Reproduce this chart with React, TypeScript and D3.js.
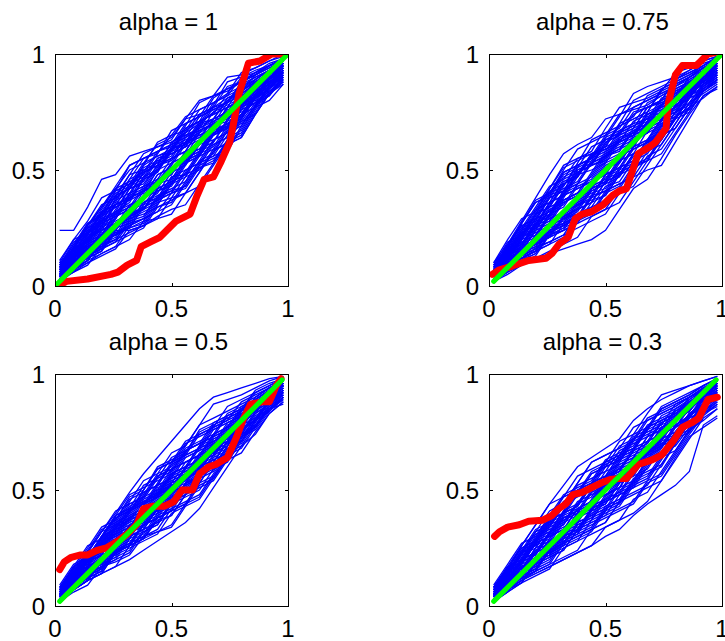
import React from 'react';
import * as d3 from 'd3';

// shared x grid of the blue simulated curves
const blueX = [0.02, 0.08, 0.14, 0.2, 0.26, 0.32, 0.38, 0.44, 0.5, 0.56, 0.62, 0.68, 0.74, 0.8, 0.86, 0.92, 0.98];

// blue curves: deviation from the diagonal, in hundredths (y = x + d/100)
const blue1 = [
  [22,16,20,26,22,24,20,16,12,10,8,7,6,4,3,1,-2],
  [4,8,12,14,16,18,15,17,14,16,18,14,10,8,6,3,-1],
  [2,5,4,8,6,10,12,9,11,8,6,4,6,3,1,0,-3],
  [1,3,-1,2,0,-4,-2,-6,-3,-8,-5,-2,-4,-6,-3,-5,-6],
  [6,10,8,12,9,11,14,12,8,10,12,9,7,4,5,2,-1],
  [0,-2,-4,-6,-9,-12,-10,-15,-19,-16,-13,-10,-12,-9,-7,-8,-9],
  [3,6,9,7,12,10,6,8,4,6,2,4,1,-2,0,-3,-4],
  [5,2,4,1,-2,-1,-5,-3,-7,-4,-1,-5,-8,-6,-4,-6,-7],
  [8,12,14,18,15,20,17,13,15,11,9,13,11,8,6,4,0],
  [2,0,3,-1,-4,-6,-9,-12,-10,-14,-11,-15,-12,-15,-11,-8,-10],
  [1,4,2,5,3,7,4,1,3,0,4,2,-2,-1,-4,-2,-5],
  [4,1,-2,-5,-3,-7,-11,-8,-12,-9,-6,-3,-5,-2,-4,-3,-6],
  [7,4,6,9,13,10,14,18,15,17,14,11,9,12,8,5,1],
  [0,3,6,4,1,-2,1,-2,-5,-2,0,-3,-6,-4,-7,-9,-8],
  [3,7,5,2,6,4,8,5,9,6,3,-1,2,-2,-5,-3,-4],
  [9,6,10,7,4,8,5,1,-2,2,-1,3,0,-4,-2,-5,-3],
  [1,-1,-3,-2,-6,-4,-8,-5,-9,-13,-10,-7,-10,-13,-9,-12,-11],
  [5,9,13,11,15,12,9,11,7,4,7,10,14,10,7,3,-1],
  [2,5,1,-3,0,3,-1,2,-2,1,-3,-6,-2,-5,-7,-4,-6],
  [6,3,7,10,8,5,2,6,9,5,8,4,1,-2,1,-2,-4],
  [0,2,-1,-4,-7,-5,-9,-6,-3,-6,-9,-12,-9,-6,-9,-6,-8],
  [4,8,6,10,13,16,12,9,6,9,5,2,-1,2,-1,-4,-5],
  [3,0,2,-2,1,-3,0,4,1,-3,-6,-9,-13,-16,-12,-9,-11],
  [7,11,9,6,10,14,11,14,10,13,17,14,16,11,8,5,2],
  [1,3,0,4,2,-1,3,0,-4,-1,-4,0,3,-1,-3,-1,-3],
  [2,-1,1,-3,-6,-3,-7,-10,-14,-11,-8,-11,-7,-4,-7,-10,-7],
  [5,8,11,8,5,2,5,8,12,9,6,9,5,7,4,1,-2],
  [3,1,4,7,4,1,-3,-1,2,5,2,-1,-4,-8,-5,-7,-5],
  [0,1,-1,-3,-1,-5,-2,-4,-1,2,6,3,0,3,0,-2,-4],
  [8,5,8,12,9,6,3,-1,1,-2,-5,-2,-6,-3,-1,-3,-2],
  [2,4,7,5,9,7,11,8,5,2,-1,1,-3,0,-2,0,-2],
  [1,-2,-1,-4,-2,-8,-12,-14,-17,-21,-18,-15,-11,-14,-10,-7,-9],
  [6,9,12,15,12,16,19,16,13,16,12,9,12,8,5,2,-1],
  [0,-1,-4,-7,-10,-8,-12,-15,-12,-16,-19,-16,-13,-16,-12,-9,-10],
  [4,7,10,13,16,13,10,13,17,14,11,8,5,8,5,3,0],
  [1,-2,-5,-3,-6,-9,-12,-9,-6,-9,-12,-9,-6,-3,-6,-4,-6],
  [3,5,8,11,8,5,8,11,8,5,8,11,8,5,3,1,-1],
  [2,0,-3,-1,-4,-7,-4,-7,-10,-13,-10,-13,-16,-12,-9,-6,-8],
  [7,10,13,10,13,10,7,10,7,4,7,4,1,4,2,0,-2],
  [1,3,1,-2,-5,-2,-5,-8,-5,-8,-5,-2,-5,-8,-5,-7,-6],
  [5,8,5,8,11,14,17,14,11,8,11,14,11,8,5,3,0],
  [0,1,-2,-5,-2,1,-2,-5,-8,-11,-8,-5,-8,-11,-8,-5,-7],
  [4,2,5,8,5,8,5,2,5,8,5,2,-1,2,0,-2,-3],
  [2,4,7,4,1,-2,-5,-2,-5,-8,-11,-14,-11,-8,-5,-7,-8],
  [9,12,9,12,15,12,15,12,9,6,9,6,3,0,2,0,-1],
  [1,0,-2,0,-3,-6,-9,-12,-15,-12,-9,-6,-3,-6,-3,-5,-6],
  [3,6,3,6,9,6,3,0,3,6,3,0,3,0,-2,-1,-3],
  [5,3,1,-2,1,-2,1,4,1,-2,-5,-8,-5,-2,-4,-2,-4],
  [2,5,8,11,14,11,8,5,8,11,14,11,8,10,6,3,0],
  [0,-1,-3,-6,-9,-6,-3,-6,-9,-6,-9,-12,-15,-11,-8,-10,-9],
  [6,4,7,4,7,10,13,10,7,4,1,4,7,4,2,-1,-2],
  [3,1,-1,-4,-7,-10,-13,-10,-13,-16,-13,-10,-7,-10,-8,-6,-7],
  [4,7,4,1,4,1,4,7,10,7,4,7,4,1,3,1,-1],
  [1,4,1,4,1,-2,-5,-2,1,-2,-5,-2,-5,-2,-4,-6,-5],
  [8,6,9,12,9,12,9,6,9,12,9,6,9,6,4,1,-1],
  [2,-1,-3,-1,-4,-1,-4,-7,-4,-1,-4,-7,-10,-7,-4,-6,-7],
  [5,8,11,8,11,8,11,8,5,2,5,2,-1,2,-1,-3,-3],
  [0,2,0,3,0,-3,-6,-9,-6,-3,0,-3,-6,-9,-12,-9,-10],
  [3,5,3,6,3,6,9,6,3,0,-3,0,3,6,3,1,-2],
  [7,5,3,0,3,6,3,6,9,12,9,6,3,0,-2,-1,-3],
  [1,3,6,9,6,3,0,-3,-6,-3,-6,-3,0,-3,-5,-3,-5],
  [4,1,-1,2,5,2,-1,2,-1,-4,-1,2,5,2,0,-2,-4],
  [2,4,2,-1,-4,-7,-10,-7,-10,-7,-4,-1,-4,-7,-4,-2,-4],
  [6,8,11,14,17,20,17,14,11,14,11,8,5,3,1,0,-2],
];
const blue2 = [
  [6,10,14,18,22,25,23,20,22,18,14,10,8,6,4,2,-1],
  [2,-1,-4,-8,-12,-16,-20,-24,-26,-23,-20,-22,-19,-15,-12,-10,-12],
  [4,7,10,13,10,14,17,14,18,21,17,13,10,12,8,5,1],
  [1,3,0,-3,-1,-5,-8,-5,-9,-12,-15,-18,-22,-18,-14,-10,-13],
  [3,6,9,6,10,7,11,8,12,9,6,9,5,2,4,1,-2],
  [0,-2,1,-2,-5,-3,-7,-10,-7,-11,-8,-5,-8,-5,-8,-6,-8],
  [5,9,13,16,13,17,14,11,8,11,8,4,7,3,0,-2,-3],
  [2,4,1,4,7,4,1,-2,1,-3,0,3,0,-3,-1,-4,-5],
  [7,5,8,11,14,11,15,19,16,13,10,7,11,8,5,3,0],
  [1,-1,-3,-6,-4,-8,-11,-14,-17,-14,-11,-14,-10,-7,-4,-7,-9],
  [3,6,4,7,5,9,6,3,6,2,5,2,-1,2,-1,-3,-4],
  [4,1,3,0,-3,0,-3,-6,-3,-6,-9,-6,-9,-12,-9,-6,-7],
  [8,12,15,12,16,20,17,13,10,14,18,15,12,9,7,4,0],
  [0,2,-1,2,-1,-4,-1,-4,-8,-5,-2,-5,-2,1,-2,-4,-6],
  [5,3,6,9,6,3,6,9,6,3,0,3,0,-3,-1,-3,-3],
  [2,0,-2,-5,-8,-11,-9,-13,-10,-7,-10,-14,-11,-8,-11,-8,-10],
  [6,9,7,11,8,12,10,13,9,6,3,6,3,5,2,0,-2],
  [1,4,7,5,2,5,2,-1,-4,-1,3,0,-3,-6,-3,-5,-7],
  [3,1,4,8,12,9,13,16,13,10,7,4,1,3,1,-1,-3],
  [0,-3,-5,-3,-7,-10,-13,-16,-19,-16,-13,-10,-13,-10,-7,-9,-11],
  [4,8,5,2,5,2,5,1,-2,1,-2,2,5,2,0,-2,-4],
  [2,5,8,11,8,11,14,11,14,17,21,18,14,10,7,5,1],
  [1,-1,2,-1,-4,-2,-5,-2,1,-2,-5,-8,-5,-8,-5,-3,-5],
  [5,2,5,2,5,8,5,2,5,8,5,2,-1,-4,-2,-4,-5],
  [3,6,3,6,10,13,10,6,3,0,-3,-6,-3,0,-2,-4,-6],
  [0,2,-1,-4,-2,-6,-3,-7,-11,-8,-5,-1,-4,-7,-10,-8,-9],
  [7,4,7,10,13,16,13,10,13,10,13,9,6,9,6,3,0],
  [2,4,1,-2,1,4,1,-2,-5,-8,-5,-8,-11,-8,-5,-3,-5],
  [4,7,10,7,4,7,11,8,5,8,4,1,4,1,3,0,-2],
  [1,3,1,-2,-5,-8,-5,-2,-5,-2,1,-2,1,-2,-4,-2,-4],
  [3,0,3,6,3,0,-3,0,3,6,9,6,3,0,2,-1,-2],
  [5,8,11,14,17,14,11,8,4,7,4,7,10,7,4,2,-1],
  [5,9,13,17,14,18,21,18,15,18,15,12,9,6,4,2,-1],
  [1,-2,-5,-8,-11,-14,-17,-14,-17,-20,-17,-14,-17,-14,-11,-8,-10],
  [3,6,9,12,15,12,9,12,15,12,15,12,9,6,3,1,-1],
  [0,-1,-4,-7,-4,-7,-10,-13,-10,-13,-10,-13,-10,-7,-9,-7,-9],
  [6,9,12,9,12,15,12,9,6,9,6,3,6,3,1,-1,-2],
  [2,0,-3,0,-3,-6,-9,-6,-9,-6,-3,-6,-9,-12,-9,-7,-8],
  [4,7,4,7,10,7,10,13,10,7,4,1,4,1,-1,1,-2],
  [1,3,1,-2,1,-2,-5,-8,-11,-8,-11,-8,-5,-8,-5,-3,-5],
  [7,11,8,11,14,17,14,11,14,11,8,11,8,5,2,0,-2],
  [3,1,-2,-5,-8,-5,-2,-5,-2,-5,-8,-11,-8,-5,-2,-4,-6],
  [2,5,8,5,2,5,2,5,8,5,2,-1,2,-1,-3,-1,-3],
  [0,2,-1,-4,-7,-10,-7,-10,-13,-16,-19,-16,-13,-10,-7,-5,-7],
  [5,3,6,9,12,9,12,9,6,3,6,9,6,3,1,-1,-2],
  [1,4,1,-2,-5,-2,1,-2,-5,-2,-5,-8,-5,-2,-4,-2,-4],
  [8,10,13,16,13,10,7,10,7,10,7,4,1,4,1,0,-2],
  [2,-1,-4,-1,-4,-7,-4,-1,-4,-7,-10,-7,-4,-7,-9,-6,-8],
  [4,6,9,6,3,6,9,12,9,6,3,0,-3,0,-2,0,-3],
  [0,1,-2,-5,-2,-5,-8,-5,-2,1,-2,-5,-2,-5,-3,-5,-6],
  [3,7,10,13,16,19,16,13,10,13,10,7,4,7,4,2,-1],
  [1,-1,-3,-6,-3,-6,-9,-12,-9,-12,-15,-12,-15,-12,-9,-11,-12],
  [6,4,7,4,7,4,1,4,7,4,1,-2,1,4,1,-1,-3],
  [2,4,1,4,1,-2,-5,-8,-5,-2,1,-2,-5,-2,-4,-6,-7],
  [5,8,11,8,5,8,11,8,11,14,11,14,11,8,5,2,0],
  [0,-2,1,-2,-5,-8,-11,-8,-5,-8,-5,-8,-11,-8,-5,-8,-9],
  [3,5,2,5,8,5,2,-1,2,-1,2,5,2,-1,1,-1,-2],
  [4,1,4,7,4,7,4,1,-2,-5,-8,-5,-2,-5,-3,-5,-6],
  [7,9,12,9,6,9,6,9,12,9,12,9,6,9,6,3,1],
  [1,3,0,-3,0,-3,0,-3,-6,-9,-6,-9,-6,-3,-1,-3,-4],
  [2,5,3,6,9,12,9,12,9,6,3,6,3,0,2,0,-2],
  [3,0,-2,-5,-2,-5,-2,1,-2,-5,-2,1,-2,-5,-7,-5,-7],
  [5,7,4,1,4,7,4,1,4,1,-2,1,4,1,-1,-2,-4],
  [0,3,6,3,0,-3,-6,-3,-6,-3,0,3,0,-3,-5,-3,-5],
];
const blue3 = [
  [3,6,9,12,14,17,19,20,21,22,23,22,18,14,10,6,1],
  [1,-1,-3,-6,-9,-12,-14,-16,-18,-20,-20,-17,-14,-11,-12,-9,-10],
  [2,5,3,7,10,8,12,15,12,9,12,9,6,8,5,2,-1],
  [0,2,-1,-4,-2,-6,-9,-7,-11,-8,-5,-8,-5,-2,-5,-3,-5],
  [4,7,5,8,5,9,6,3,6,9,6,3,0,3,0,-1,-3],
  [1,-1,1,-2,1,-2,-5,-2,-6,-9,-12,-9,-12,-9,-6,-8,-8],
  [5,9,6,10,13,10,14,11,8,11,8,11,8,5,3,1,-1],
  [2,0,3,0,-3,0,-4,-1,2,-1,-4,-1,2,-1,-3,-1,-3],
  [3,6,9,6,9,12,9,6,3,6,3,0,3,0,-2,0,-2],
  [0,-2,-5,-3,-7,-10,-8,-12,-16,-13,-10,-13,-10,-7,-9,-7,-9],
  [6,4,7,4,8,5,2,5,8,11,8,5,2,5,2,0,-2],
  [1,3,0,3,0,-3,0,-3,-6,-3,-7,-4,-7,-10,-7,-4,-6],
  [4,8,11,14,11,15,12,16,13,10,14,11,8,5,7,4,0],
  [2,-1,2,-1,-4,-1,2,-1,-4,-7,-4,-1,-4,-1,2,0,-2],
  [3,1,4,7,4,1,4,7,4,1,-2,1,4,1,-1,1,-1],
  [0,2,-1,-3,-6,-9,-6,-9,-6,-3,-6,-9,-6,-9,-6,-4,-7],
  [5,3,6,9,12,9,6,9,12,15,12,9,12,9,6,3,0],
  [1,4,1,-2,1,-2,-5,-8,-5,-8,-11,-14,-11,-8,-5,-7,-8],
  [2,5,8,5,2,5,8,5,2,-1,2,5,2,-1,1,-1,-3],
  [3,0,-2,1,-2,-5,-2,-5,-2,1,-2,-5,-8,-5,-2,-4,-5],
  [4,7,4,7,10,7,10,13,16,13,16,19,15,11,8,5,1],
  [0,-1,-3,-6,-3,-6,-3,-6,-9,-12,-15,-12,-9,-6,-3,-5,-6],
  [2,4,6,3,6,3,0,3,0,3,6,3,0,-3,-1,-2,-4],
  [6,9,7,4,7,10,7,4,1,-2,1,-2,-5,-2,1,-1,-2],
  [1,3,5,8,5,2,-1,2,5,2,-1,2,-1,2,4,2,-1],
  [3,1,-2,-5,-2,-5,-8,-11,-8,-5,-2,-5,-8,-11,-8,-5,-7],
  [4,6,9,12,9,6,9,12,9,12,9,6,3,6,3,1,-1],
  [0,2,0,-3,0,3,0,-3,-6,-3,0,-3,0,3,0,-2,-3],
  [5,3,1,4,1,-2,1,4,7,4,1,-2,-5,-3,-6,-4,-5],
  [2,0,3,6,3,6,3,0,-3,0,-3,-6,-3,-6,-9,-7,-11],
  [3,6,3,0,3,0,-3,0,3,0,3,0,-3,0,3,1,-1],
  [1,4,7,10,13,10,7,4,7,4,1,4,1,-2,0,-2,-4],
  [4,7,10,13,10,13,16,13,10,13,16,13,10,7,4,2,-1],
  [1,-1,-3,-6,-9,-6,-9,-12,-15,-12,-9,-12,-9,-6,-8,-6,-8],
  [2,5,8,5,8,11,8,11,14,11,8,5,8,5,2,0,-2],
  [0,1,-2,-5,-2,-5,-8,-5,-8,-11,-14,-11,-8,-5,-3,-5,-6],
  [5,8,5,2,5,8,11,8,5,8,5,2,5,2,0,1,-2],
  [3,1,-1,-4,-1,2,-1,-4,-7,-4,-7,-10,-7,-4,-6,-4,-6],
  [6,9,12,9,12,9,12,15,12,9,6,9,6,3,1,-1,-2],
  [1,3,0,-3,-6,-3,-6,-9,-6,-3,0,-3,-6,-9,-6,-3,-5],
  [3,6,3,6,3,0,3,6,9,6,3,0,-3,0,-2,0,-2],
  [2,0,-2,0,-3,-6,-3,-6,-9,-12,-9,-6,-3,-6,-4,-6,-7],
  [4,2,5,8,11,14,11,8,11,8,5,8,5,2,0,-1,-3],
  [0,2,-1,2,-1,-4,-7,-4,-1,-4,-1,2,-1,-4,-6,-4,-6],
  [5,7,4,7,4,7,4,1,4,1,-2,1,-2,1,3,1,-1],
  [1,-1,-3,-1,-4,-7,-10,-13,-10,-13,-16,-13,-10,-7,-5,-7,-8],
  [2,4,7,10,7,4,7,4,7,10,13,10,7,4,6,3,0],
  [3,5,2,-1,2,-1,2,-1,-4,-1,-4,-7,-10,-7,-10,-8,-9],
  [7,10,7,10,13,16,13,10,7,4,7,4,1,4,1,-1,-2],
  [1,2,0,-3,0,3,0,-3,0,-3,-6,-3,0,-3,-1,-3,-4],
  [4,6,3,6,9,6,3,0,3,0,3,6,9,6,3,1,-1],
  [0,-1,-3,-6,-3,-6,-3,-6,-3,-6,-9,-6,-9,-12,-9,-7,-8],
  [3,6,9,12,15,12,9,12,9,6,3,6,3,0,-2,0,-2],
  [2,0,3,0,3,0,-3,0,3,0,-3,-6,-3,0,-2,-4,-5],
  [6,4,7,10,7,10,7,4,1,4,7,10,7,4,2,0,-1],
  [1,3,1,-2,-5,-8,-5,-2,-5,-8,-5,-8,-5,-2,0,-2,-4],
  [4,8,5,8,5,2,5,8,11,14,11,8,5,2,4,2,-1],
  [2,-1,-3,0,-3,-6,-9,-6,-9,-6,-3,0,-3,-6,-9,-6,-7],
  [3,4,7,4,7,4,1,-2,1,-2,1,-2,1,-2,0,-2,-3],
  [5,2,5,2,-1,2,5,8,5,2,-1,-4,-1,2,0,-2,-3],
  [0,3,6,9,6,9,6,3,6,3,0,3,0,-3,-1,-3,-4],
  [1,-1,1,-2,-5,-2,-5,-8,-11,-8,-5,-8,-11,-14,-11,-9,-10],
  [2,4,2,5,8,5,2,5,2,-1,2,-1,-4,-1,1,-1,-3],
  [4,1,-2,1,-2,1,-2,1,-2,1,4,1,-2,1,-1,1,-2],
];
const blue4 = [
  [2,0,-3,-6,-9,-12,-15,-18,-20,-23,-23,-24,-26,-28,-28,-14,-16],
  [4,8,12,15,18,20,22,20,18,16,18,17,15,12,9,5,1],
  [1,-1,-3,-6,-9,-12,-15,-18,-16,-19,-22,-23,-20,-16,-13,-15,-17],
  [3,6,9,12,9,12,15,18,15,12,9,12,9,6,4,2,-1],
  [0,2,-1,-4,-2,-5,-8,-11,-14,-11,-8,-11,-14,-10,-7,-9,-10],
  [5,8,5,8,11,8,5,8,5,2,5,8,5,2,4,1,-2],
  [2,0,3,0,-3,-6,-3,-6,-9,-6,-9,-12,-9,-6,-8,-5,-7],
  [4,7,10,7,10,13,10,13,10,7,10,7,4,7,4,2,-1],
  [1,3,0,3,0,-3,-6,-3,0,-3,-6,-3,0,-3,-5,-3,-5],
  [3,1,4,7,4,1,4,1,-2,-5,-2,1,-2,1,-1,-2,-4],
  [0,-2,-4,-2,-5,-8,-5,-8,-11,-14,-17,-14,-11,-8,-5,-8,-9],
  [6,9,6,9,12,15,12,9,12,15,12,9,12,9,6,3,0],
  [2,5,2,-1,2,5,2,-1,-4,-1,2,-1,-4,-7,-4,-6,-7],
  [4,2,5,2,5,2,-1,2,5,2,-1,-4,-1,2,0,-1,-3],
  [1,-1,1,-2,-5,-2,-5,-2,-5,-8,-5,-2,-5,-8,-11,-9,-12],
  [5,8,11,8,5,8,11,14,11,8,5,8,11,8,5,3,0],
  [3,1,-2,1,-2,1,-2,-5,-8,-5,-2,-5,-2,1,-2,-1,-3],
  [0,3,6,3,6,3,6,9,6,3,0,3,0,-3,0,-2,-4],
  [2,0,-2,-5,-8,-5,-8,-11,-8,-11,-14,-17,-20,-17,-14,-11,-13],
  [4,7,4,7,4,7,4,1,4,7,4,1,-2,1,-2,0,-2],
  [1,4,7,10,7,4,7,4,1,-2,1,-2,1,4,1,-1,-2],
  [3,0,3,0,-3,0,-3,-6,-3,0,-3,-6,-9,-6,-3,-6,-8],
  [5,3,6,9,12,15,18,15,12,9,12,15,17,13,9,5,1],
  [0,2,-1,-4,-1,-4,-7,-4,-7,-10,-13,-16,-13,-10,-7,-4,-6],
  [2,5,2,5,2,-1,2,5,2,5,2,-1,2,-1,1,0,-2],
  [4,1,4,1,-2,1,-2,1,4,1,-2,1,-2,-5,-3,-5,-5],
  [1,3,6,3,6,9,6,3,6,9,6,9,6,3,1,2,-1],
  [3,5,2,-1,-4,-1,-4,-7,-10,-13,-10,-7,-4,-7,-4,-2,-4],
  [0,-2,1,4,1,4,1,-2,1,-2,-5,-2,-5,-2,-5,-3,-6],
  [6,3,6,9,6,3,6,9,6,3,6,3,6,3,1,-1,-2],
  [2,4,1,-2,1,-2,1,-2,-5,-2,1,-2,1,-2,-4,-6,-9],
  [3,6,9,6,3,6,3,0,3,0,-3,0,3,0,2,0,-2],
  [3,6,9,12,15,12,15,18,15,12,15,12,9,6,4,2,-1],
  [1,-1,-4,-7,-10,-7,-10,-13,-16,-19,-16,-19,-16,-13,-10,-12,-13],
  [4,7,4,7,10,13,10,13,10,7,10,13,10,7,4,1,-1],
  [0,2,-1,-4,-7,-4,-7,-10,-7,-10,-7,-10,-13,-10,-7,-5,-7],
  [5,8,11,8,11,8,5,8,11,8,5,2,5,2,0,1,-2],
  [2,0,-2,-5,-2,-5,-2,-5,-8,-11,-8,-5,-8,-11,-9,-7,-8],
  [6,9,6,9,6,9,12,9,6,9,6,9,6,3,1,-1,-2],
  [1,3,0,-3,0,-3,-6,-3,-6,-3,-6,-9,-6,-3,-5,-3,-5],
  [3,5,8,5,8,5,2,5,8,5,2,5,2,-1,1,-1,-3],
  [0,-2,-4,-1,-4,-7,-10,-7,-4,-7,-10,-13,-10,-13,-10,-8,-10],
  [4,6,9,12,9,12,9,6,3,6,9,6,3,0,2,0,-1],
  [2,4,1,-2,1,-2,1,-2,-5,-8,-11,-8,-5,-2,-4,-2,-4],
  [7,10,13,10,13,16,13,10,13,10,7,10,7,4,2,0,-2],
  [1,-1,1,-2,-5,-8,-5,-8,-11,-8,-11,-14,-17,-14,-11,-9,-11],
  [3,6,3,0,3,6,3,6,3,0,-3,0,3,0,-2,0,-2],
  [5,3,1,-2,1,-2,-5,-2,1,-2,1,-2,-5,-8,-5,-3,-4],
  [2,5,8,11,8,11,14,11,8,11,8,5,2,5,3,1,-1],
  [0,1,-2,-5,-8,-11,-14,-11,-14,-11,-8,-5,-8,-5,-7,-5,-7],
  [4,2,5,2,5,8,5,8,5,2,5,2,5,2,0,-2,-3],
  [1,3,6,3,0,-3,0,-3,-6,-3,0,-3,-6,-3,-1,-3,-5],
  [6,8,5,8,11,8,11,8,5,8,11,8,11,8,5,3,0],
  [2,0,3,0,-3,-6,-9,-12,-9,-12,-9,-6,-3,-6,-4,-6,-7],
  [3,6,9,6,9,6,3,0,3,6,3,0,-3,0,-2,-1,-3],
  [1,-1,-3,-5,-2,-5,-2,-5,-2,-5,-8,-5,-2,-5,-3,-5,-6],
  [5,7,10,13,10,7,10,7,10,13,10,7,4,1,3,1,-1],
  [0,2,0,-3,-6,-3,-6,-9,-12,-15,-18,-15,-18,-15,-12,-10,-11],
  [4,1,4,7,4,1,-2,1,4,1,-2,1,-2,1,-1,-2,-4],
  [2,4,2,5,2,-1,2,-1,2,-1,2,5,8,5,2,0,-1],
  [3,0,-2,1,-2,1,4,1,-2,-5,-2,-5,-8,-5,-3,-5,-6],
  [6,9,12,15,18,15,12,9,12,9,6,3,0,3,1,-1,-2],
  [1,3,1,4,1,-2,-5,-2,1,4,1,-2,1,-2,-4,-2,-4],
  [0,-1,-3,-1,-4,-1,2,-1,-4,-7,-4,-1,-4,-7,-10,-8,-9],
];

// red (observed) curves
const red1X = [0.02,0.05,0.14,0.24,0.27,0.31,0.35,0.37,0.41,0.45,0.48,0.52,0.58,0.61,0.64,0.68,0.71,0.75,0.77,0.79,0.83,0.88,0.93,0.99];
const red1Y = [0.005,0.02,0.03,0.05,0.06,0.09,0.11,0.17,0.19,0.21,0.24,0.28,0.31,0.39,0.46,0.47,0.53,0.62,0.72,0.83,0.96,0.97,1.0,1.0];
const red2X = [0.014,0.045,0.1,0.17,0.245,0.27,0.3,0.34,0.37,0.4,0.44,0.49,0.53,0.56,0.59,0.615,0.64,0.69,0.715,0.76,0.77,0.8,0.83,0.89,0.91,0.94,0.99];
const red2Y = [0.05,0.07,0.086,0.11,0.12,0.14,0.18,0.21,0.29,0.31,0.32,0.35,0.39,0.41,0.42,0.495,0.57,0.6,0.62,0.68,0.79,0.91,0.95,0.95,0.97,1.0,1.01];
const red3X = [0.02,0.04,0.07,0.11,0.14,0.18,0.22,0.27,0.31,0.35,0.38,0.42,0.47,0.51,0.545,0.59,0.62,0.66,0.69,0.74,0.78,0.81,0.84,0.89,0.92,0.95,0.97];
const red3Y = [0.157,0.19,0.21,0.22,0.22,0.24,0.25,0.28,0.31,0.35,0.42,0.43,0.43,0.45,0.5,0.5,0.57,0.6,0.61,0.64,0.73,0.81,0.87,0.88,0.88,0.95,0.98];
const red4X = [0.024,0.045,0.08,0.13,0.17,0.23,0.27,0.3,0.33,0.36,0.4,0.44,0.48,0.52,0.56,0.59,0.615,0.64,0.7,0.74,0.79,0.83,0.87,0.9,0.92,0.94,0.98];
const red4Y = [0.3,0.32,0.34,0.35,0.365,0.37,0.39,0.42,0.44,0.48,0.49,0.51,0.53,0.545,0.55,0.55,0.58,0.61,0.63,0.65,0.71,0.77,0.79,0.81,0.85,0.89,0.9];

// green reference line endpoints (start, end) on the diagonal
const green1 = [0.01, 1.0];
const green2 = [0.02, 1.0];
const green3 = [0.02, 0.975];
const green4 = [0.02, 0.975];

const titles = ['alpha = 1', 'alpha = 0.75', 'alpha = 0.5', 'alpha = 0.3'];
const tickValues = [0, 0.5, 1];
const tickLabels = ['0', '0.5', '1'];

const FONT = '"Liberation Sans", Arial, Helvetica, sans-serif';

type PanelProps = {
  id: string;
  left: number;
  top: number;
  title: string;
  blue: number[][];
  redX: number[];
  redY: number[];
  green: number[];
};

function Panel({ id, left, top, title, blue, redX, redY, green }: PanelProps) {
  const W = 233;
  const H = 232;
  const x = d3.scaleLinear().domain([0, 1]).range([left, left + W]);
  const y = d3.scaleLinear().domain([0, 1]).range([top + H, top]);
  const line = d3
    .line<[number, number]>()
    .x((d) => x(d[0]))
    .y((d) => y(d[1]));
  const clipId = `clip-${id}`;
  const tickLen = 3;
  return (
    <g>
      <defs>
        <clipPath id={clipId}>
          <rect x={left} y={top} width={W} height={H} />
        </clipPath>
      </defs>
      <g clipPath={`url(#${clipId})`}>
        {blue.map((dev, i) => (
          <path
            key={i}
            d={line(blueX.map((bx, j) => [bx, bx + dev[j] / 100] as [number, number])) || ''}
            fill="none"
            stroke="#0000ff"
            strokeWidth={1.3}
          />
        ))}
        <path
          d={line(redX.map((rx, j) => [rx, redY[j]] as [number, number])) || ''}
          fill="none"
          stroke="#ff0000"
          strokeWidth={7}
          strokeLinejoin="round"
          strokeLinecap="round"
        />
        <path
          d={line([[green[0], green[0]], [green[1], green[1]]]) || ''}
          fill="none"
          stroke="#00ff00"
          strokeWidth={5}
          strokeLinecap="round"
        />
      </g>
      <rect
        x={left + 0.5}
        y={top + 0.5}
        width={W}
        height={H}
        fill="none"
        stroke="#000"
        strokeWidth={1}
        shapeRendering="crispEdges"
      />
      {tickValues.map((t, i) => (
        <g key={i} stroke="#000" strokeWidth={1} shapeRendering="crispEdges">
          <line x1={x(t) + 0.5} x2={x(t) + 0.5} y1={top + H} y2={top + H - tickLen} />
          <line x1={x(t) + 0.5} x2={x(t) + 0.5} y1={top + 1} y2={top + 1 + tickLen} />
          <line x1={left + 1} x2={left + 1 + tickLen} y1={y(t) + 0.5} y2={y(t) + 0.5} />
          <line x1={left + W} x2={left + W - tickLen} y1={y(t) + 0.5} y2={y(t) + 0.5} />
        </g>
      ))}
      {tickValues.map((t, i) => (
        <text
          key={`xl${i}`}
          x={x(t)}
          y={top + H + 31}
          textAnchor="middle"
          fontFamily={FONT}
          fontSize={24}
          fill="#000"
        >
          {tickLabels[i]}
        </text>
      ))}
      {tickValues.map((t, i) => (
        <text
          key={`yl${i}`}
          x={left - 10}
          y={y(t) + 8.5}
          textAnchor="end"
          fontFamily={FONT}
          fontSize={24}
          fill="#000"
        >
          {tickLabels[i]}
        </text>
      ))}
      <text
        x={left + W / 2 - 3}
        y={top - 24}
        textAnchor="middle"
        fontFamily={FONT}
        fontSize={24}
        fill="#000"
      >
        {title}
      </text>
    </g>
  );
}

export default function App() {
  const panels = [
    { left: 55, top: 54, blue: blue1, redX: red1X, redY: red1Y, green: green1 },
    { left: 489, top: 54, blue: blue2, redX: red2X, redY: red2Y, green: green2 },
    { left: 55, top: 374, blue: blue3, redX: red3X, redY: red3Y, green: green3 },
    { left: 489, top: 374, blue: blue4, redX: red4X, redY: red4Y, green: green4 },
  ];
  return (
    <svg
      width={725}
      height={641}
      style={{ position: 'absolute', left: 0, top: 0, background: '#fff' }}
    >
      <rect x={0} y={0} width={725} height={641} fill="#fff" />
      {panels.map((p, i) => (
        <Panel key={i} id={`p${i}`} title={titles[i]} {...p} />
      ))}
    </svg>
  );
}
